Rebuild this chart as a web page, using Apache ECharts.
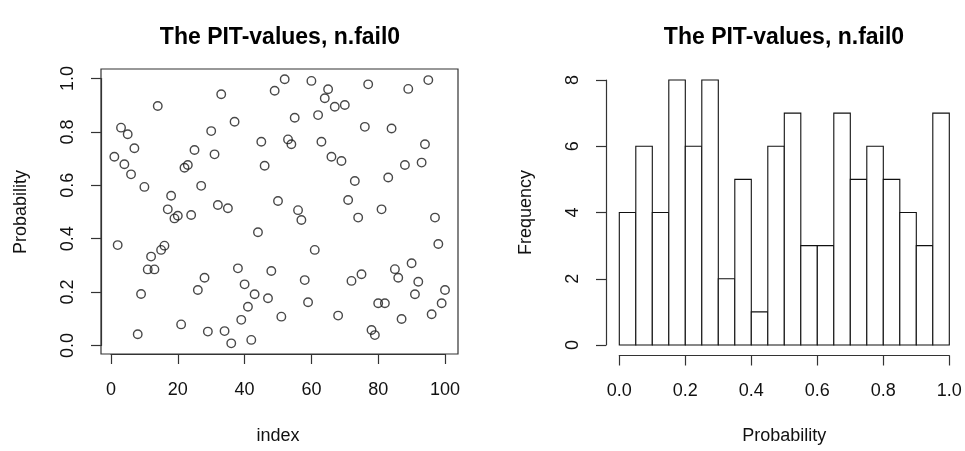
<!DOCTYPE html>
<html><head><meta charset="utf-8">
<script src="https://cdn.jsdelivr.net/npm/echarts@6/dist/echarts.min.js"></script>
<style>html,body{margin:0;padding:0;background:#fff}#c{width:965px;height:451px}</style>
</head><body><div id="c"></div>
<script>
const chartTitle = 'The PIT-values, n.fail0';
// PIT value for index 1..100 (position in array = index - 1)
const pitValues = [
  0.707, 0.376, 0.816, 0.679, 0.791, 0.641, 0.739, 0.042, 0.193, 0.594,
  0.285, 0.333, 0.285, 0.897, 0.358, 0.374, 0.510, 0.561, 0.476, 0.486,
  0.079, 0.666, 0.676, 0.489, 0.732, 0.208, 0.598, 0.254, 0.052, 0.803,
  0.716, 0.526, 0.941, 0.054, 0.514, 0.008, 0.838, 0.289, 0.096, 0.229,
  0.145, 0.021, 0.192, 0.424, 0.763, 0.673, 0.177, 0.279, 0.954, 0.541,
  0.108, 0.997, 0.772, 0.754, 0.853, 0.507, 0.470, 0.245, 0.162, 0.991,
  0.358, 0.863, 0.763, 0.926, 0.960, 0.707, 0.894, 0.112, 0.691, 0.901,
  0.545, 0.242, 0.616, 0.479, 0.267, 0.819, 0.978, 0.058, 0.039, 0.158,
  0.510, 0.158, 0.629, 0.813, 0.286, 0.254, 0.099, 0.676, 0.961, 0.308,
  0.192, 0.239, 0.685, 0.754, 0.994, 0.117, 0.479, 0.380, 0.158, 0.208
];
const histBreaks = [0, 0.05, 0.1, 0.15, 0.2, 0.25, 0.3, 0.35, 0.4, 0.45, 0.5,
                    0.55, 0.6, 0.65, 0.7, 0.75, 0.8, 0.85, 0.9, 0.95, 1.0];
const histCounts = [4, 6, 4, 8, 6, 8, 2, 5, 1, 6, 7, 3, 3, 7, 5, 6, 5, 4, 3, 7];
const indexRange = [0, 100];   // tick range of the index axis (step 20)
const probRange = [0, 1];      // tick range of the probability axis (step 0.2)
const freqRange = [0, 8];      // tick range of the frequency axis (step 2)
const xNameLeft = 'index';
const yNameLeft = 'Probability';
const xNameRight = 'Probability';
const yNameRight = 'Frequency';

const FONT = 'Liberation Sans';
const INK = '#111';
const LINE = '#333';
const lblSize = 18;

const scatterData = pitValues.map((p, i) => [i + 1, p]);
const histData = histCounts.map((c, i) => [histBreaks[i], histBreaks[i + 1], c]);

const chart = echarts.init(document.getElementById('c'), null, {renderer: 'canvas'});
const axisText = {fontFamily: FONT, fontSize: lblSize, color: INK};
const lineStyle = {color: LINE, width: 1.2};
const hidden = {show: false};
chart.setOption({
  animation: false,
  backgroundColor: '#fff',
  title: [
    {text: chartTitle, left: 280, top: 26, textAlign: 'center', padding: 0,
     textStyle: {fontFamily: FONT, fontSize: 23, fontWeight: 'bold', color: '#000'}},
    {text: chartTitle, left: 784, top: 26, textAlign: 'center', padding: 0,
     textStyle: {fontFamily: FONT, fontSize: 23, fontWeight: 'bold', color: '#000'}}
  ],
  grid: [
    // box of the scatter plot region
    {left: 101, top: 69, width: 357, height: 285, show: true, borderColor: LINE, borderWidth: 1.2, backgroundColor: 'transparent'},
    // scatter data area (0..100 x 0..1)
    {left: 111, top: 78.5, width: 334, height: 267},
    // histogram data area (0..1 x 0..8)
    {left: 619.3, top: 80, width: 330, height: 265}
  ],
  xAxis: [
    {gridIndex: 0, type: 'value', min: 0, max: 1, show: false},
    {gridIndex: 1, type: 'value', min: indexRange[0], max: indexRange[1], interval: 20, offset: 8.5,
     splitLine: hidden,
     axisLine: {show: true, onZero: false, lineStyle},
     axisTick: {show: true, length: 10, lineStyle},
     axisLabel: {margin: 27, ...axisText},
     name: xNameLeft, nameLocation: 'middle', nameGap: 73, nameTextStyle: axisText},
    {gridIndex: 2, type: 'value', min: probRange[0], max: probRange[1], interval: 0.2, offset: 10.5,
     splitLine: hidden,
     axisLine: {show: true, onZero: false, lineStyle},
     axisTick: {show: true, length: 10, lineStyle},
     axisLabel: {margin: 27, formatter: v => v.toFixed(1), ...axisText},
     name: xNameRight, nameLocation: 'middle', nameGap: 72, nameTextStyle: axisText}
  ],
  yAxis: [
    {gridIndex: 0, type: 'value', min: 0, max: 1, show: false},
    {gridIndex: 1, type: 'value', min: probRange[0], max: probRange[1], interval: 0.2, offset: 10,
     splitLine: hidden,
     axisLine: {show: true, onZero: false, lineStyle},
     axisTick: {show: true, length: 10, lineStyle},
     axisLabel: {rotate: 90, margin: 24, formatter: v => v.toFixed(1), ...axisText},
     name: yNameLeft, nameLocation: 'middle', nameGap: 71, nameTextStyle: axisText},
    {gridIndex: 2, type: 'value', min: freqRange[0], max: freqRange[1], interval: 2, offset: 13.3,
     splitLine: hidden,
     axisLine: {show: true, onZero: false, lineStyle},
     axisTick: {show: true, length: 10, lineStyle},
     axisLabel: {rotate: 90, margin: 24, ...axisText},
     name: yNameRight, nameLocation: 'middle', nameGap: 71, nameTextStyle: axisText}
  ],
  series: [
    {type: 'scatter', xAxisIndex: 1, yAxisIndex: 1, data: scatterData, symbol: 'circle', symbolSize: 8.5,
     clip: false,
     itemStyle: {color: 'rgba(0,0,0,0)', borderColor: '#1a1a1a', borderWidth: 1.4}},
    {type: 'custom', xAxisIndex: 2, yAxisIndex: 2, data: histData, encode: {x: [0, 1], y: 2},
     clip: false,
     renderItem: (params, api) => {
       const p0 = api.coord([api.value(0), 0]);
       const p1 = api.coord([api.value(1), api.value(2)]);
       return {type: 'rect',
         shape: {x: p0[0], y: p1[1], width: p1[0] - p0[0], height: p0[1] - p1[1]},
         style: {fill: '#fff', stroke: '#111', lineWidth: 1.1}};
     }}
  ]
});
</script></body></html>
